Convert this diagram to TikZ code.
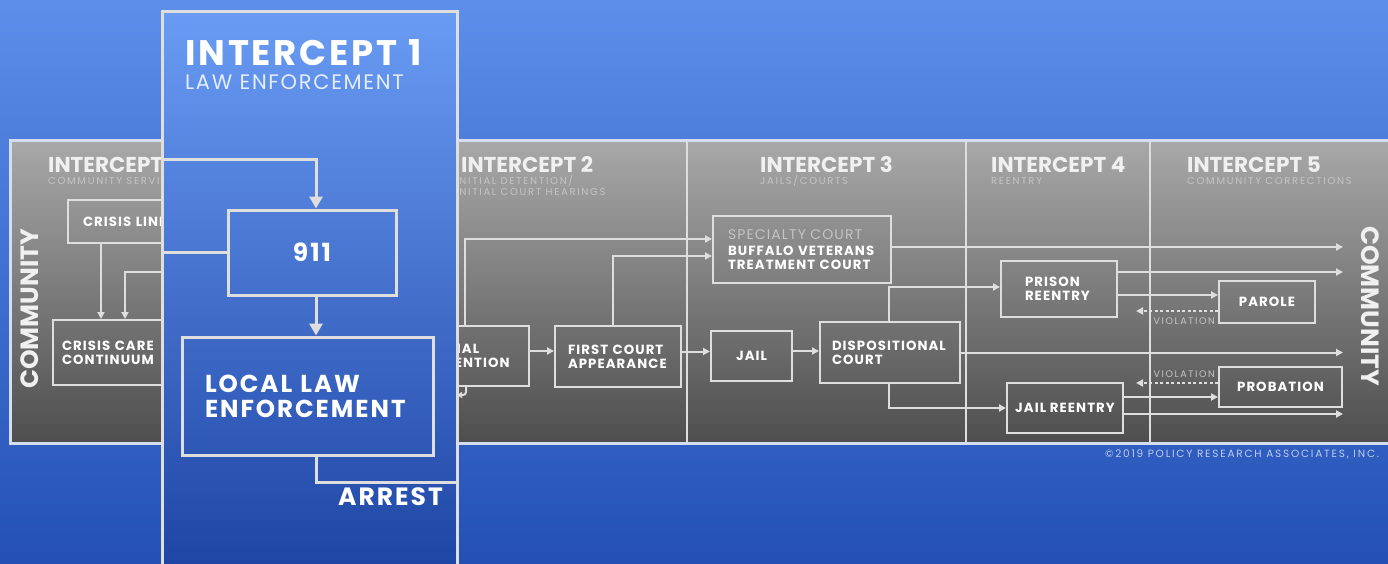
\documentclass[tikz,border=0pt]{standalone}
\usepackage{fontspec}
\setmainfont{Poppins}
\newfontfamily\popls{Poppins}[LetterSpace=8]
\newfontfamily\popsub{Poppins}[LetterSpace=17]
\usetikzlibrary{arrows.meta}
\definecolor{bgtop}{RGB}{92,142,234}
\definecolor{bgbot}{RGB}{36,80,180}
\definecolor{coltop}{RGB}{106,156,244}
\definecolor{colbot}{RGB}{26,64,160}
\definecolor{graytop}{RGB}{168,168,168}
\definecolor{graybot}{RGB}{78,78,78}
\definecolor{ln}{RGB}{222,222,222}
\definecolor{bandln}{RGB}{212,222,240}
\definecolor{subc}{RGB}{196,196,196}
\definecolor{copyc}{RGB}{190,206,240}
\newcommand\myboxf{\popls\bfseries\fontsize{13.3}{14}\selectfont}
\newcommand\myttlf{\bfseries\fontsize{21.5}{24}\selectfont}
\newcommand\mysubf{\popsub\fontsize{10}{12}\selectfont}
\tikzset{
  gbox/.style={draw=ln, line width=2pt, inner sep=0pt, font=\myboxf, text=white, align=center},
  gboxl/.style={gbox, align=left},
  bbox/.style={draw=ln, line width=3pt, inner sep=0pt, text=white},
  gline/.style={draw=ln, line width=2pt},
  garrow/.style={gline, -{Triangle[length=7pt,width=7pt]}},
  gdash/.style={gline, dash pattern=on 3pt off 2.5pt, -{Triangle[length=7pt,width=7pt]}},
  bline/.style={draw=ln, line width=3pt},
  barrow/.style={bline, -{Triangle[length=12pt,width=13pt]}},
  ttl/.style={anchor=base west, inner sep=0pt, font=\myttlf, text=white!94!black},
  subt/.style={anchor=base west, inner sep=0pt, font=\mysubf, text=subc},
  divline/.style={draw=ln, line width=2.5pt},
  violf/.style={anchor=base east, inner sep=0pt, font=\popsub\fontsize{9.5}{10}\selectfont, text=subc},
}
\begin{document}
\begin{tikzpicture}[x=1pt,y=-1pt]
\useasboundingbox (0,0) rectangle (1388,564);
\clip (0,0) rectangle (1388,564);
\shade[top color=bgtop, bottom color=bgbot] (0,0) rectangle (1388,564);
% gray band
\draw[draw=bandln, line width=3pt, top color=graytop, bottom color=graybot] (10,141) rectangle (1400,443);
\draw[divline] (687,141) -- (687,443);
\draw[divline] (966,141) -- (966,443);
\draw[divline] (1150,141) -- (1150,443);
% titles
\node[ttl] (t0) at (48,172) {INTERCEPT 0};
\node[subt] (s0) at (48,184) {COMMUNITY SERVICES};
\node[ttl] (t2) at (461,172) {INTERCEPT 2};
\node[subt] (s2a) at (455,184) {INITIAL DETENTION/};
\node[subt] (s2b) at (455,196) {INITIAL COURT HEARINGS};
\node[ttl] (t3) at (760,172) {INTERCEPT 3};
\node[subt] (s3) at (760,184) {JAILS/COURTS};
\node[ttl] (t4) at (991,172) {INTERCEPT 4};
\node[subt] (s4) at (991,184) {REENTRY};
\node[ttl] (t5) at (1187,172) {INTERCEPT 5};
\node[subt] (s5) at (1187,184) {COMMUNITY CORRECTIONS};
% community labels
\node[rotate=90, font=\bfseries\fontsize{25}{26}\selectfont, text=white!94!black, inner sep=0pt] (commL) at (30,309) {COMMUNITY};
\node[rotate=-90, font=\bfseries\fontsize{25}{26}\selectfont, text=white!94!black, inner sep=0pt] (commRt) at (1370,306) {COMMUNITY};
\coordinate (commR) at (1343,300);
% intercept 0 boxes
\node[gboxl, minimum height=43pt, text width=122pt, inner xsep=15pt] (crisisline) at (144,221.5) {CRISIS LINES};
\node[gboxl, minimum height=65pt, text width=149pt, inner xsep=9pt] (crisiscare) at (136.5,352.5) {CRISIS CARE\\CONTINUUM};
\coordinate (c1) at ([xshift=-43pt]crisisline.south);
\draw[garrow] (c1) -- (c1 |- crisiscare.north);
\coordinate (colL272) at (162,272);
\draw[garrow] (colL272) -| ([xshift=-11.5pt]crisiscare.north);
% intercept 2 boxes
\node[gboxl, minimum height=60pt, text width=90pt, inner xsep=12pt] (det) at (472,356) {INITIAL\\DETENTION};
\node[gboxl, minimum height=61pt, text width=100pt, inner xsep=13pt] (fca) at (618,356.5) {FIRST COURT\\APPEARANCE};
% intercept 3 boxes
\node[gboxl, minimum height=67pt, text width=148pt, inner xsep=15pt] (spec) at (802,249.5) {{\popls\mdseries\fontsize{14}{14}\selectfont\color{subc}SPECIALTY COURT}\\[2pt]BUFFALO VETERANS\\TREATMENT COURT};
\node[gbox, minimum width=81pt, minimum height=50pt] (jail) at (751.5,356) {JAIL};
\node[gboxl, minimum height=61pt, text width=116pt, inner xsep=12pt] (disp) at (890,352.5) {DISPOSITIONAL\\COURT};
% intercept 4 boxes
\node[gboxl, minimum height=56pt, text width=68pt, inner xsep=24pt] (prison) at (1059,289) {PRISON\\REENTRY};
\node[gbox, minimum width=116pt, minimum height=50pt] (jre) at (1065,408) {JAIL REENTRY};
% intercept 5 boxes
\node[gbox, minimum width=96pt, minimum height=42pt] (parole) at (1267,302) {PAROLE};
\node[gbox, minimum width=123pt, minimum height=40pt] (prob) at (1280.5,387) {PROBATION};
% connectors gray
\coordinate (a1) at ([yshift=5pt]det.east);
\draw[garrow] (a1) -- (a1 -| fca.west);
\draw[garrow] ([xshift=-7pt]det.north) |- ([yshift=10.5pt]spec.west);
\draw[garrow] ([xshift=-5pt]fca.north) |- ([yshift=-6.5pt]spec.west);
\coordinate (colR395) at (457,395);
\draw[gline, -{Triangle[length=5pt,width=6pt]}, rounded corners=3pt] ([xshift=-6pt]det.south) |- (colR395);
\coordinate (a2) at ([yshift=5pt]fca.east);
\draw[garrow] (a2) -- (a2 -| jail.west);
\coordinate (a3) at ([yshift=5pt]jail.east);
\draw[garrow] (a3) -- (a3 -| disp.west);
\coordinate (s1) at ([yshift=2.5pt]spec.east);
\draw[garrow] (s1) -- (s1 -| commR);
\draw[garrow] ([xshift=-1pt]disp.north) |- ([yshift=2pt]prison.west);
\draw[garrow] (disp.east) -- (disp.east -| commR);
\draw[garrow] ([xshift=-1pt]disp.south) |- (jre.west);
\coordinate (p1) at ([yshift=17pt]prison.east);
\draw[garrow] (p1) -- (p1 -| commR);
\coordinate (p2) at ([yshift=-6pt]prison.east);
\draw[garrow] (p2) -- (p2 -| parole.west);
\coordinate (v1) at ([yshift=-9pt]parole.west);
\coordinate (v1e) at (1136,311);
\draw[gdash] (v1) -- (v1e);
\node[violf] (viol1) at (1215,324) {VIOLATION};
\coordinate (v2) at ([yshift=4pt]prob.west);
\coordinate (v2e) at (1136,383);
\draw[gdash] (v2) -- (v2e);
\node[violf] (viol2) at (1215,377) {VIOLATION};
\coordinate (j1) at ([yshift=11pt]jre.east);
\draw[garrow] (j1) -- (j1 -| prob.west);
\coordinate (j2) at ([yshift=-6pt]jre.east);
\draw[garrow] (j2) -- (j2 -| commR);
% copyright
\node[anchor=base west, inner sep=0pt, font=\popsub\fontsize{10.5}{11}\selectfont, text=copyc] (copy) at (1105,457) {\textcopyright2019 POLICY RESEARCH ASSOCIATES, INC.};
% blue column (intercept 1)
\draw[draw=ln, line width=3pt, top color=coltop, bottom color=colbot] (162,12) rectangle (457,600);
\node[anchor=base west, inner sep=0pt, font=\popls\bfseries\fontsize{35.5}{38}\selectfont, text=white] (t1) at (185,66) {INTERCEPT 1};
\node[anchor=base west, inner sep=0pt, font=\popls\fontsize{21}{22}\selectfont, text=white!82!coltop] (s1t) at (185,90) {LAW ENFORCEMENT};
\node[bbox, minimum width=168pt, minimum height=85pt, font=\popls\bfseries\fontsize{25}{26}\selectfont] (n911) at (312,252.5) {911};
\node[bbox, minimum height=118pt, text width=205pt, inner xsep=23pt, align=left, font=\popls\bfseries\fontsize{24.5}{25}\selectfont] (lle) at (307.5,396) {LOCAL LAW\\ENFORCEMENT};
\coordinate (colL160) at (162,160);
\draw[barrow] (colL160) -| ([xshift=4pt]n911.north);
\coordinate (colL253) at (162,252.5);
\draw[bline] (n911.west) -- (colL253);
\draw[barrow] ([xshift=4pt]n911.south) -- ([xshift=8.5pt]lle.north);
\coordinate (colR482) at (457,482);
\draw[bline] ([xshift=8.5pt]lle.south) |- (colR482);
\node[anchor=base east, inner sep=0pt, font=\popls\bfseries\fontsize{25}{26}\selectfont, text=white] (arrest) at (443,505) {ARREST};
\end{tikzpicture}
\end{document}
